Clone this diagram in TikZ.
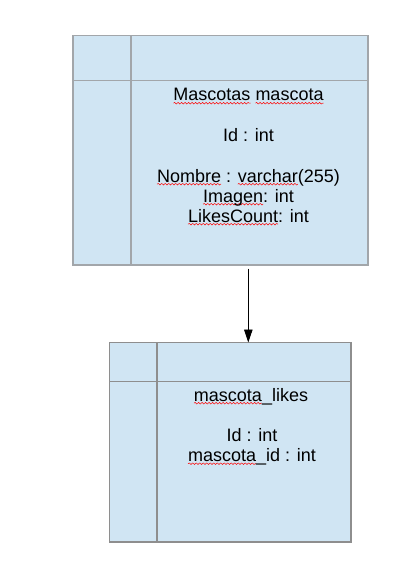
\documentclass[tikz,border=0pt]{standalone}
\usepackage{fontspec}
\setmainfont{Liberation Sans}
\usetikzlibrary{arrows.meta,decorations.pathmorphing}
\definecolor{tablefill}{HTML}{D0E5F3}
\definecolor{tableline}{HTML}{A2A6AA}
\definecolor{tablelinedark}{HTML}{8E8E8E}
\newsavebox\wavebox
\newcommand\spellwave[1]{\sbox\wavebox{#1}\rlap{\tikz[baseline=0pt,x=1pt,y=1pt]{\useasboundingbox (0,0) -- (\wd\wavebox,0);
\draw[spell] (0,-2.2) -- (\wd\wavebox,-2.2);}}\usebox\wavebox}
\tikzset{
tablebox/.style={draw=tableline,fill=tablefill,line width=1.6pt},
tableboxb/.style={draw=tablelinedark,fill=tablefill,line width=1.3pt},
fieldtext/.style={font=\fontsize{18}{20}\selectfont,anchor=base,inner sep=0pt},
spell/.style={red,line width=0.5pt,decorate,decoration={snake,amplitude=0.8pt,segment length=3.5pt}}
}
\begin{document}
\begin{tikzpicture}[x=1pt,y=-1pt]
\useasboundingbox (0,0) rectangle (401,583);
\path
(73,35.5) coordinate (A)
(368,265) coordinate (B)
(131,35.5) coordinate (C)
(73,80.5) coordinate (D)
(109.5,342.5) coordinate (E)
(351,542) coordinate (F)
(157,342.5) coordinate (G)
(109.5,381.5) coordinate (H)
(248.3,268.5) coordinate (P)
(248.3,342.5) coordinate (Q)
;
% mascota table
\draw[tablebox] (A) rectangle (B);
\draw[tablebox] (C) -- (C|-B) (D) -- (D-|B);
% mascota_likes table
\draw[tableboxb] (E) rectangle (F);
\draw[tableboxb] (G) -- (G|-F) (H) -- (H-|F);
\draw[line width=0.9pt,-{Triangle[length=13pt,width=8.5pt]}] (P) -- (Q);
\node[fieldtext] (name1) at (248.5,101) {\spellwave{Mascotas} \spellwave{mascota}};
\node[fieldtext] (id1) at (248.5,141) {Id : int};
\node[fieldtext] (nombre) at (248.5,182) {\spellwave{Nombre} : \spellwave{varchar}(255)};
\node[fieldtext] (imagen) at (248.5,202) {\spellwave{Imagen}: int};
\node[fieldtext] (likes) at (248.5,222) {\spellwave{LikesCount}: int};
\node[fieldtext] (name2) at (251,401) {\spellwave{mascota}\_likes};
\node[fieldtext] (id2) at (252,441.5) {Id : int};
\node[fieldtext] (mid) at (252,461.5) {\spellwave{mascota}\_id : int};
\end{tikzpicture}
\end{document}
